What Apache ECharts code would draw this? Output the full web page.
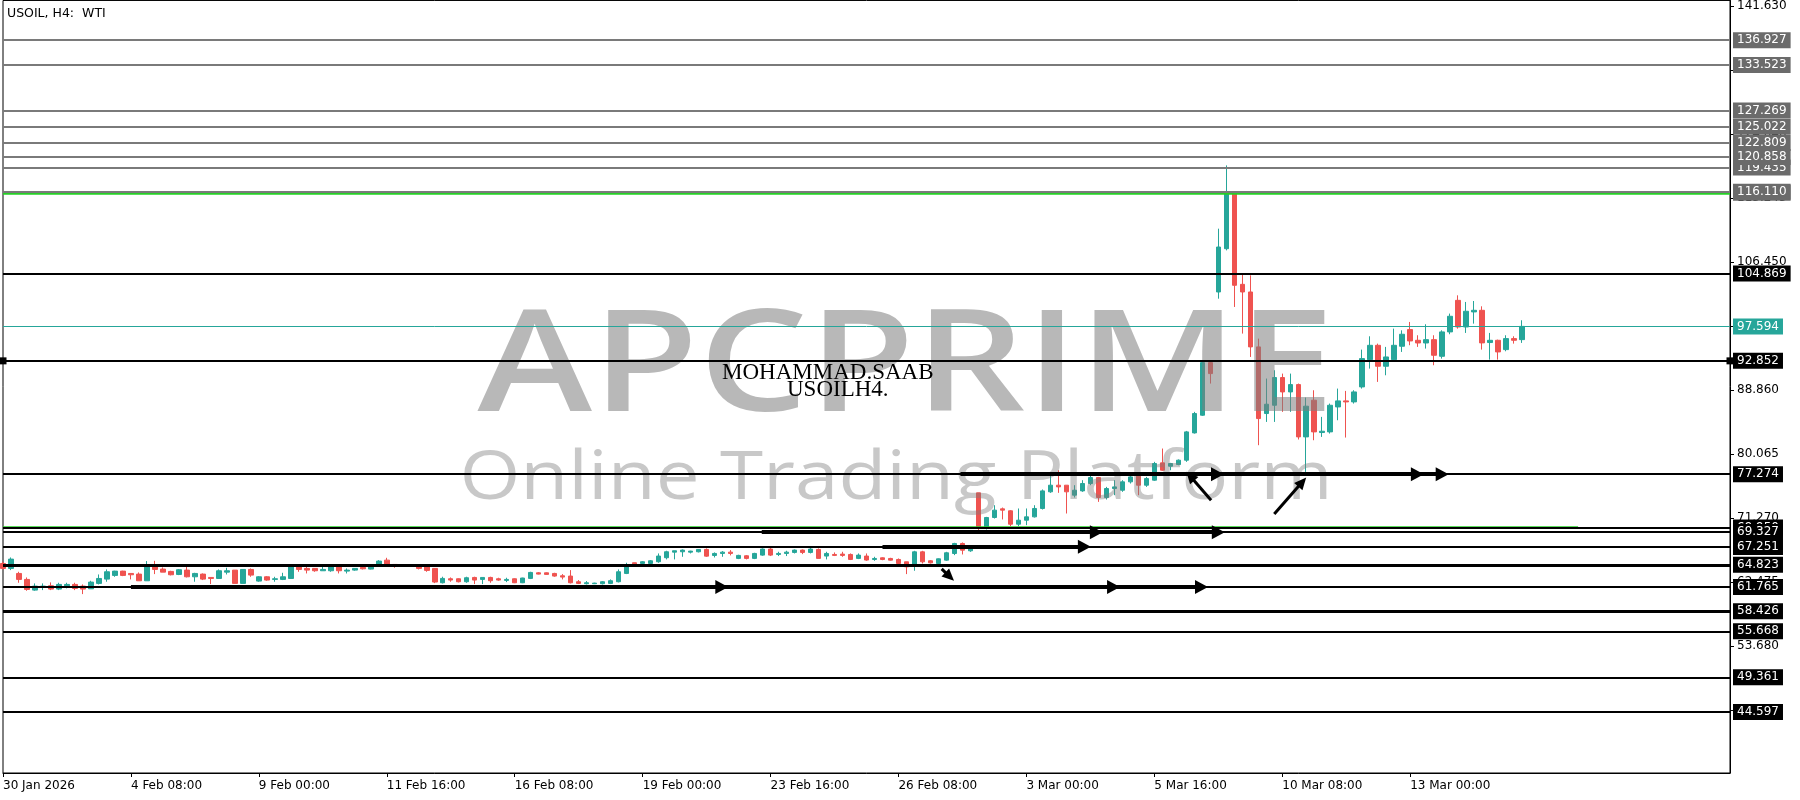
<!DOCTYPE html>
<html><head><meta charset="utf-8">
<script src="https://cdn.jsdelivr.net/npm/echarts@6/dist/echarts.min.js"></script>
<style>html,body{margin:0;padding:0;background:#fff}#c{width:1800px;height:800px}</style>
</head><body><div id="c"></div>
<script>
// ---- candle data, rows are [open, close, low, high] (H4 bars) ----
const weekJan30 = [
 [65.00,64.32,64.18,65.23],[64.32,65.60,64.09,65.83],[63.63,62.81,62.35,63.86],[62.81,61.43,61.25,63.08],
 [61.34,61.89,61.25,62.26],[61.71,61.89,61.34,62.26],[61.94,61.48,61.34,62.40],[61.48,62.12,61.34,62.35],
 [61.94,62.12,61.57,62.35],[62.12,61.57,61.34,62.35],[61.89,61.48,60.79,62.12],[61.52,62.44,61.52,62.62],
 [62.26,62.94,62.12,63.49],[62.85,63.86,62.49,64.18],[63.36,63.95,63.17,64.00],[63.95,63.36,63.26,64.00],
 [63.63,63.45,62.81,63.63],[63.54,62.62,62.62,63.77],[62.62,64.78,62.62,65.33],[64.78,64.18,63.54,65.37],
 [64.23,63.81,63.81,64.46],[63.91,63.45,63.36,64.00],[63.49,64.14,63.40,64.23],[64.09,63.17,63.08,64.55],
 [63.17,63.63,62.49,63.72],[63.54,62.85,62.72,63.63],[63.08,62.94,62.17,63.08],[62.94,64.00,62.90,64.18],
 [63.81,64.00,63.49,64.41],[64.09,62.26,62.26,64.09],[62.26,64.18,62.26,64.18],[64.18,63.40,63.17,64.32]
];
const weekFeb09 = [
 [62.58,63.17,62.49,63.26],[63.17,62.72,62.62,63.26],[62.81,62.90,62.49,63.17],[62.81,63.17,62.72,63.72],
 [62.94,64.64,62.90,64.64],[64.64,64.18,63.86,64.78],[64.32,64.09,63.63,64.55],[64.32,64.00,63.86,64.32],
 [64.00,64.18,64.00,64.64],[64.00,64.55,63.86,64.64],[64.55,64.00,63.63,64.64],[63.95,64.09,63.63,64.32],
 [64.09,64.32,64.00,64.32],[64.46,64.27,64.18,64.64],[64.23,64.78,64.18,64.91],[64.91,65.33,64.87,65.46],
 [65.46,64.91,64.91,65.78],[64.87,64.78,64.41,64.87],[64.78,64.82,64.70,64.90],[64.78,64.73,64.60,64.87],
 [64.78,64.32,64.18,64.91],[64.55,64.05,63.86,64.64],[64.32,62.45,62.30,64.35],[62.35,62.95,62.26,63.18],
 [62.90,62.72,62.49,63.08],[62.90,62.49,62.40,62.95],[62.49,63.04,62.35,63.18],[63.08,62.72,62.17,63.18],
 [62.81,63.08,62.17,63.08],[63.08,62.63,62.35,63.18]
];
const weekFeb16 = [
 [62.90,62.72,62.63,63.04],[62.67,62.81,62.44,63.04],[62.90,62.35,62.30,62.95],[62.35,63.00,62.30,63.04],
 [62.95,63.77,62.86,63.86],[63.72,63.54,63.50,63.82],[63.72,63.50,63.45,63.77],[63.63,63.27,63.18,63.72],
 [63.31,63.13,62.81,63.54],[63.27,62.35,62.26,64.09],[62.49,62.26,62.17,62.72],[62.22,62.35,62.12,62.58],
 [62.22,62.30,62.17,62.35],[62.22,62.49,62.12,62.58],[62.26,62.63,62.17,62.81],[62.49,63.86,62.40,64.18],
 [63.63,64.64,63.54,65.10],[65.10,64.96,64.64,65.10],[65.01,65.24,64.96,65.33],[65.01,65.37,64.92,65.47],
 [65.24,66.02,65.10,66.38],[65.79,66.61,65.56,66.75],[66.56,66.75,65.56,66.75],[66.61,66.84,65.92,66.93],
 [66.56,66.70,66.38,66.75],[66.61,66.93,66.52,66.98],[66.93,66.01,65.92,67.07],[66.10,66.38,65.83,66.52],
 [66.38,66.56,65.92,66.70],[66.56,66.38,66.11,66.84]
];
const weekFeb23 = [
 [65.70,66.11,65.60,66.20],[66.06,65.70,65.56,66.15],[65.70,66.38,65.60,66.47],[66.15,66.98,66.06,67.07],
 [66.98,66.15,66.02,67.30],[66.24,66.38,66.02,66.61],[66.38,66.56,66.02,66.75],[66.52,66.84,66.38,66.93],
 [66.84,66.52,66.29,66.93],[66.52,66.98,66.38,67.16],[66.93,65.70,65.70,67.07],[66.02,66.38,65.56,66.61],
 [66.24,66.11,66.02,66.52],[66.29,66.11,65.92,66.61],[66.24,65.56,65.47,66.38],[65.70,66.15,65.60,66.38],
 [66.02,65.47,65.37,66.38],[65.55,65.69,65.37,65.92],[65.78,65.55,65.45,65.85],[65.69,65.46,65.40,65.78],
 [65.55,65.00,65.00,65.69],[65.23,64.54,63.54,65.23],[64.77,66.60,64.00,66.74],[66.60,65.23,65.00,66.74],
 [65.37,65.09,65.00,65.46],[65.00,65.64,64.91,65.69],[65.46,66.47,65.37,66.60],[66.37,67.75,66.15,67.84],
 [67.75,66.83,66.24,67.89],[66.74,67.06,66.60,67.20]
];
const weekMar02 = [
 [74.71,69.81,69.58,74.71],[69.81,71.32,69.67,71.41],[71.32,72.33,71.18,73.01],[72.51,72.33,71.05,72.69],
 [72.24,70.40,70.13,72.33],[70.40,70.95,70.13,72.56],[70.95,71.41,70.27,72.56],[71.41,72.56,71.32,73.01],
 [72.56,74.98,72.42,75.17],[74.85,75.76,74.71,77.13],[75.76,75.53,74.71,77.82],[75.76,74.85,71.87,75.76],
 [74.39,75.07,74.07,75.76],[74.98,75.99,74.85,76.45],[75.99,76.81,75.76,77.13],[76.81,74.07,73.47,76.90],
 [74.07,75.30,73.79,75.53],[75.30,75.53,74.39,76.45],[75.07,76.22,74.85,76.45],[76.22,76.90,75.99,77.13],
 [76.99,75.76,74.39,77.13],[75.76,76.67,75.53,76.90],[76.45,78.74,76.36,78.97],[78.83,77.82,77.73,80.80],
 [78.37,78.74,77.82,78.83],[78.60,79.20,78.50,79.30],[79.20,83.09,78.97,83.22],[82.95,85.61,82.86,85.84],
 [85.38,92.61,85.29,92.84],[92.61,91.10,89.73,92.70]
];
const weekMar09 = [
 [102.32,108.50,101.40,111.02],[108.27,116.06,108.04,119.72],[116.06,103.24,100.26,116.06],[103.37,102.32,96.60,104.84],
 [102.32,94.77,93.39,104.61],[94.77,84.92,81.26,95.91],[85.61,86.89,84.46,90.42],[86.75,90.56,84.46,91.56],
 [90.56,88.58,85.84,91.10],[88.58,89.59,85.84,91.10],[89.59,82.40,82.04,89.73],[82.40,86.62,77.59,87.81],
 [87.44,83.09,81.94,88.81],[83.00,83.18,82.40,85.15],[83.09,86.75,82.86,86.98],[86.52,87.35,84.69,89.04],
 [87.35,87.21,82.31,88.72],[87.21,88.58,86.98,88.81],[89.27,93.16,89.04,94.40],[93.02,94.99,91.79,96.23],
 [94.99,92.11,89.96,95.22],[92.11,93.39,90.87,94.77],[93.02,94.99,92.70,97.28],[94.86,96.51,94.08,97.05],
 [97.15,95.59,95.00,98.20],[95.68,95.31,94.77,96.37],[95.31,95.77,94.54,97.88],[95.77,93.62,92.25,96.37],
 [93.48,96.83,93.16,97.05],[96.83,98.98,96.51,99.35]
];
const weekMar16 = [
 [101.17,97.51,97.28,101.86],[97.51,99.67,96.69,100.95],[99.58,99.80,97.97,101.08],[99.80,95.32,94.40,100.35],
 [95.37,95.68,93.02,96.69],[95.68,94.08,93.02,95.77],[94.40,95.91,94.17,96.37],[95.91,95.68,95.22,96.23],
 [95.77,97.59,95.32,98.43]
];

// ---- axes ----
const xTickIndex  = [0,16,32,48,64,80,96,112,128,144,160,176];
const xTickLabels = ['30 Jan 2026','4 Feb 08:00','9 Feb 00:00','11 Feb 16:00','16 Feb 08:00','19 Feb 00:00',
                     '23 Feb 16:00','26 Feb 08:00','3 Mar 00:00','5 Mar 16:00','10 Mar 08:00','13 Mar 00:00'];
const yTickValues = [141.630,132.835,124.040,115.245,106.450,97.655,88.860,80.065,71.270,62.475,53.680,44.885];
const TOTAL_SLOTS = 217;          // bars + empty space on the right
const Y_MIN = 36.2, Y_MAX = 142.39;

// ---- horizontal levels ----
const greenLines   = [[115.95,0,216,'115.950'],[69.97,0,197,null]];   // price, from slot, to slot, label
const greyLevels   = [116.110,119.435,120.858,122.809,125.022,127.269,133.523,136.927];
const blackLevels  = [104.869,92.852,77.274,69.95,69.327,67.251,64.823,61.765,58.426,55.668,49.361,44.597];
const thickLevels  = [64.823,58.426];
const markedLevel  = 92.852;
const currentPrice = 97.594;

// ---- arrow annotations (slot index, price) ----
const arrowRuns = [
  {price:77.274, from:119.75, heads:[151.9,176.9,180.0]},
  {price:69.31,  from:94.9,   heads:[136.75,152.0]},
  {price:67.30,  from:110.0,  heads:[135.25]},
  {price:61.765, from:16.0,   heads:[89.9,138.9,149.9]}
];
const diagArrows = [
  [[151.1,73.7],[148.5,77.0]],
  [[159.0,71.8],[162.5,76.2]],
  [[117.4,64.25],[118.4,63.2]]
];

// ================================================================
const candles = [].concat(weekJan30,weekFeb09,weekFeb16,weekFeb23,weekMar02,weekMar09,weekMar16);
const categories = Array.from({length: TOTAL_SLOTS}, (_, i) => 'b' + i);
const tickMap = {};
xTickIndex.forEach((k, i) => tickMap[k] = xTickLabels[i]);

const FONT = 'DejaVu Sans';
function boxLabel(text, bg) {
  return {show:true, position:'end', distance:3, formatter:text, color:'#fff', backgroundColor:bg,
          fontFamily:FONT, fontSize:12, lineHeight:13, padding:[2,4,1,4]};
}
const levelItems = [];
greenLines.forEach(g => levelItems.push([
  {coord:[g[1], g[0]], lineStyle:{color:'#25d025', width:2.5, type:'solid'},
   label: g[3] ? boxLabel(g[3], '#6b6b6b') : {show:false}},
  {coord:[g[2], g[0]]}]));
greyLevels.forEach(p => levelItems.push({yAxis:p, lineStyle:{color:'#7a7a7a', width:2, type:'solid'},
  label: boxLabel(p.toFixed(3), '#6b6b6b')}));
blackLevels.forEach(p => {
  const w = thickLevels.includes(p) ? 3 : 2;
  const lab = boxLabel(p.toFixed(3), '#000');
  if (p === markedLevel) {
    levelItems.push([
      {coord:[0,p], symbol:'rect', symbolSize:7, lineStyle:{color:'#000', width:w, type:'solid'}, label:lab},
      {coord:[TOTAL_SLOTS-1,p], symbol:'rect', symbolSize:7}]);
  } else {
    levelItems.push({yAxis:p, lineStyle:{color:'#000', width:w, type:'solid'}, label:lab});
  }
});
levelItems.push({yAxis:currentPrice, lineStyle:{color:'#26a69a', width:1, type:'solid'},
  label: boxLabel(currentPrice.toFixed(3), '#26a69a')});

const arrowItems = [];
arrowRuns.forEach(r => {
  let start = r.from;
  r.heads.forEach(h => {
    arrowItems.push([
      {coord:[start, r.price], symbol:'none', lineStyle:{color:'#000', width:4, type:'solid'}},
      {coord:[h, r.price], symbol:'triangle', symbolSize:[14,13]}]);
    start = h;
  });
});
diagArrows.forEach(a => arrowItems.push([
  {coord:a[0], symbol:'none', lineStyle:{color:'#000', width:3, type:'solid'}},
  {coord:a[1], symbol:'triangle', symbolSize:[11,12]}]));

const chart = echarts.init(document.getElementById('c'), null, {renderer:'canvas'});
chart.setOption({
  animation:false,
  backgroundColor:'#fff',
  grid:{left:2, right:70, top:0, bottom:27, containLabel:false, show:true,
        borderColor:'#000', borderWidth:1, backgroundColor:'transparent'},
  xAxis:[
    {type:'category', data:categories, boundaryGap:false,
     axisLine:{show:true, onZero:false, lineStyle:{color:'#000', width:1}},
     axisTick:{show:true, inside:false, length:4, interval:(i)=> i in tickMap, lineStyle:{color:'#000'}},
     axisLabel:{show:true, interval:(i)=> i in tickMap, formatter:(v,i)=> tickMap[i] || '', align:'left',
                color:'#000', fontFamily:FONT, fontSize:12, margin:7, showMinLabel:true},
     splitLine:{show:false}},
    {type:'value', min:0, max:TOTAL_SLOTS-1, show:false, axisLine:{onZero:false},
     splitLine:{show:false}, axisTick:{show:false}}
  ],
  yAxis:[
    {type:'value', position:'right', min:Y_MIN, max:Y_MAX,
     axisLine:{show:true, onZero:false, lineStyle:{color:'#000', width:1}},
     axisTick:{show:true, length:4, customValues:yTickValues, lineStyle:{color:'#000'}},
     axisLabel:{show:true, customValues:yTickValues, formatter:(v)=> Number(v).toFixed(3),
                color:'#000', fontFamily:FONT, fontSize:12, margin:7},
     splitLine:{show:false}}
  ],
  graphic:[
    {type:'text', x:906, y:371, z:3, silent:true, scaleX:1.22, scaleY:1,
     style:{text:'APCPRIME', fill:'rgba(125,125,125,0.55)', font:'600 142px "Open Sans"',
            textAlign:'center', textVerticalAlign:'middle', verticalAlign:'middle'}},
    {type:'text', x:896, y:480, z:3, silent:true, scaleX:1.15, scaleY:1,
     style:{text:'Online Trading Platform', fill:'rgba(125,125,125,0.42)', font:'68px "Open Sans"',
            textAlign:'center', textVerticalAlign:'middle', verticalAlign:'middle'}},
    {type:'text', x:722, y:373, z:20, silent:true,
     style:{text:'MOHAMMAD.SAAB', fill:'#000', font:'23px "Liberation Serif"',
            textAlign:'left', textVerticalAlign:'middle', verticalAlign:'middle'}},
    {type:'text', x:787, y:390, z:20, silent:true,
     style:{text:'USOILH4.', fill:'#000', font:'23px "Liberation Serif"',
            textAlign:'left', textVerticalAlign:'middle', verticalAlign:'middle'}},
    {type:'text', x:7, y:14, z:20, silent:true,
     style:{text:'USOIL, H4:  WTI', fill:'#000', font:'12.5px "DejaVu Sans"',
            textAlign:'left', textVerticalAlign:'middle', verticalAlign:'middle'}}
  ],
  series:[
    {type:'candlestick', name:'USOIL', xAxisIndex:0, yAxisIndex:0, data:candles, barWidth:5, z:2,
     itemStyle:{color:'#26a69a', color0:'#ef5350', borderColor:'#26a69a', borderColor0:'#ef5350', borderWidth:1},
     emphasis:{disabled:true}, silent:true},
    {type:'line', name:'levels', xAxisIndex:1, yAxisIndex:0, data:[], z:5, silent:true,
     markLine:{silent:true, symbol:'none', animation:false, emphasis:{disabled:true}, data:levelItems}},
    {type:'line', name:'arrows', xAxisIndex:1, yAxisIndex:0, data:[], z:6, silent:true,
     markLine:{silent:true, symbol:'none', animation:false, emphasis:{disabled:true}, label:{show:false},
               data:arrowItems}}
  ]
});
</script>
</body></html>
